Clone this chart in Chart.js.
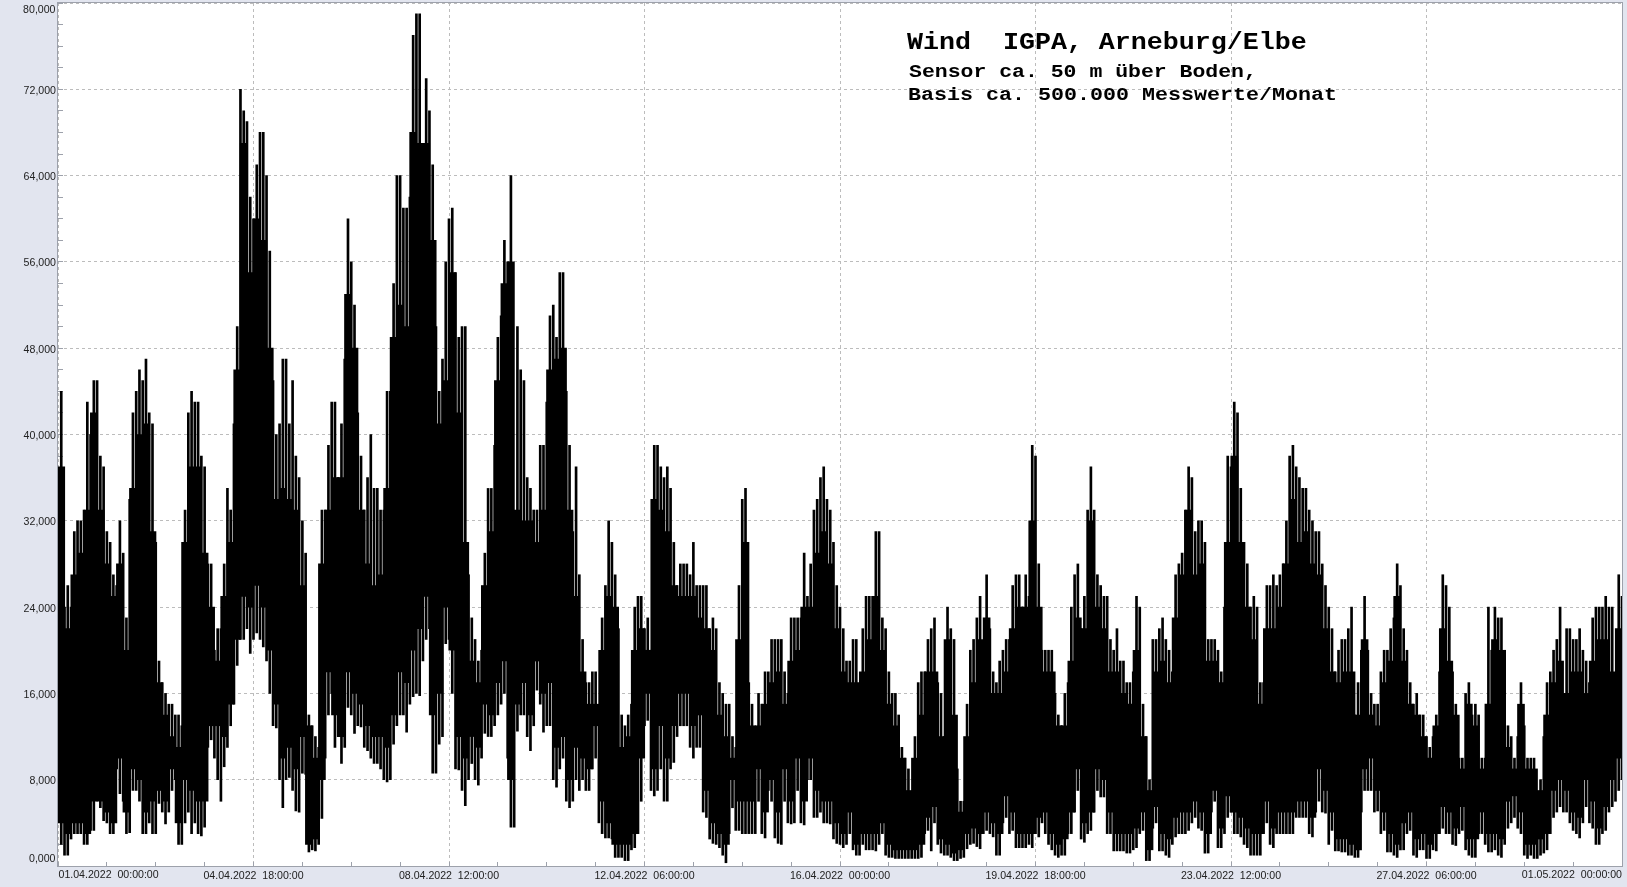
<!DOCTYPE html>
<html lang="de">
<head>
    <meta charset="UTF-8">
    <title>Wind IGPA, Arneburg/Elbe</title>
    <script src="https://cdn.jsdelivr.net/npm/chart.js"></script>
    <style>
        html, body {
            margin: 0;
            padding: 0;
            background: #e2e5ef;
            overflow: hidden;
        }
        canvas {
            display: block;
        }
    </style>
</head>
<body>
    <canvas id="windChart" width="1627" height="887"></canvas>

    <script>
        // tick labels
        const yLabels = ['0,000', '8,000', '16,000', '24,000', '32,000', '40,000', '48,000', '56,000', '64,000', '72,000', '80,000'];
        const xLabels = ['01.04.2022  00:00:00', '04.04.2022  18:00:00', '08.04.2022  12:00:00', '12.04.2022  06:00:00', '16.04.2022  00:00:00', '19.04.2022  18:00:00', '23.04.2022  12:00:00', '27.04.2022  06:00:00', '01.05.2022  00:00:00'];
        const titleLines = ['Wind  IGPA, Arneburg/Elbe', 'Sensor ca. 50 m über Boden,', 'Basis ca. 500.000 Messwerte/Monat'];

        // wind readings per 3 hour column: highest and lowest spike
        const spikeHigh = [
            44, 26, 31, 32, 43, 45, 38, 31, 27, 32,
            23, 42, 46, 47, 41, 19, 16, 15, 14, 33,
            44, 43, 37, 28, 22, 28, 33, 50, 70, 62,
            65, 68, 57, 40, 47, 41, 38, 32, 14, 12,
            33, 39, 43, 41, 60, 52, 38, 36, 35, 33,
            44, 54, 64, 61, 77, 79, 73, 65, 44, 56,
            61, 49, 50, 23, 19, 29, 35, 49, 58, 64,
            50, 45, 35, 33, 39, 51, 49, 55, 39, 37,
            21, 17, 18, 23, 32, 27, 14, 14, 24, 25,
            23, 39, 37, 37, 30, 28, 28, 30, 26, 26,
            23, 17, 15, 12, 26, 35, 15, 16, 18, 21,
            21, 18, 23, 23, 29, 28, 34, 37, 33, 26,
            22, 19, 21, 22, 25, 31, 23, 18, 16, 11,
            9, 12, 18, 21, 23, 16, 24, 21, 6, 15,
            21, 25, 27, 18, 19, 21, 26, 27, 27, 39,
            28, 20, 20, 14, 16, 24, 28, 25, 37, 27,
            25, 21, 22, 19, 17, 25, 15, 8, 21, 23,
            20, 27, 29, 37, 31, 32, 21, 21, 18, 38,
            43, 35, 28, 25, 17, 26, 27, 27, 32, 39,
            36, 35, 32, 31, 26, 22, 20, 21, 24, 17,
            25, 16, 15, 20, 22, 28, 22, 17, 16, 14,
            11, 14, 27, 24, 15, 10, 17, 15, 10, 24,
            24, 23, 13, 10, 17, 10, 10, 8, 17, 20,
            24, 22, 21, 22, 19, 23, 24, 25, 24, 27
        ];
        const spikeLow = [
            2, 1, 3, 3, 2, 3.3, 5.4, 4, 3, 6.7,
            3, 7, 6, 3, 3, 5.8, 3.9, 7, 2, 4,
            3, 3, 3.6, 11.7, 8, 9.2, 13, 18.6, 21, 19.7,
            21.6, 20.3, 16, 12.8, 5.4, 8.2, 5.1, 8.6, 1.3, 1.4,
            4.4, 14, 11, 9.5, 14.7, 12.3, 12.9, 10.7, 9.5, 9,
            7.8, 11.3, 14, 12.4, 15.7, 15.8, 21, 8.6, 11.3, 20.6,
            16, 8.9, 5.6, 9.5, 7.5, 12.3, 12, 14, 16, 3.6,
            12.5, 14, 10.7, 16.3, 12.4, 13, 7.3, 10, 5.4, 8,
            8, 7, 10, 3, 2.6, 0.8, 0.8, 0.5, 1.7, 6,
            13.5, 6.5, 9, 6, 9.6, 13, 13, 10, 11, 4.5,
            2.1, 1.7, 0.3, 5.4, 3.3, 3, 3, 6, 2.6, 6,
            2.1, 6, 3.9, 7, 3.8, 8, 4.5, 4, 3.9, 2.1,
            1.7, 3, 1, 2, 1.5, 1.4, 3, 0.8, 0.7, 0.7,
            0.7, 0.7, 0.8, 3.3, 4, 1.2, 1, 0.5, 0.7, 1.6,
            2.1, 1.6, 3.3, 2.7, 1, 4.5, 3.3, 1.7, 1.7, 1.7,
            2.7, 3, 1.5, 0.8, 1, 3, 7, 2.2, 3.3, 7,
            6.4, 3, 1.4, 1.4, 1.2, 1.7, 3.3, 0.5, 4, 1.4,
            0.8, 2.7, 3, 3.3, 4.5, 3.3, 1.2, 6, 1.7, 4.5,
            3, 2.7, 1.7, 1, 1, 4, 1.7, 3, 3, 3,
            4.5, 4.5, 2.7, 6, 4.9, 3.3, 1.4, 1.3, 1, 0.8,
            7, 7, 5.1, 3.3, 1.3, 0.8, 1.5, 3.3, 0.8, 1.5,
            0.7, 1.4, 3.5, 3, 1.9, 3.3, 1, 0.8, 3, 1.3,
            1.5, 0.8, 3.5, 4.5, 3, 0.7, 0.7, 1, 1.5, 4.5,
            5.5, 5, 3.3, 2.6, 5.5, 3.5, 2, 3.3, 5.5, 7
        ];

        // spikes that fall on the boundary between two columns
        const midHigh = [
            24, 24, 32, 33, 40, 45, 37, 30, 26, 29,
            34, 44, 45, 42, 30, 17, 15, 14, 13, 42,
            43, 38, 28, 20, 22, 35, 41, 72, 69, 60,
            68, 64, 45, 41, 47, 45, 36, 29, 13, 11,
            33, 43, 36, 47, 56, 42, 33, 40, 35, 33,
            44, 64, 61, 62, 79, 64, 70, 50, 47, 60,
            55, 50, 27, 21, 20, 35, 39, 51, 56, 30,
            46, 36, 33, 39, 43, 52, 55, 44, 31, 27,
            17, 18, 14, 26, 30, 22, 13, 15, 25, 22,
            20, 39, 36, 35, 26, 28, 27, 26, 26, 22,
            22, 16, 15, 11, 34, 17, 12, 15, 18, 21,
            21, 16, 23, 23, 25, 33, 36, 34, 30, 24,
            19, 21, 15, 25, 25, 31, 22, 16, 14, 10,
            6, 17, 18, 22, 17, 12, 22, 9, 6, 20,
            23, 20, 22, 17, 20, 21, 27, 24, 25, 38,
            20, 20, 16, 13, 17, 27, 22, 33, 33, 26,
            25, 20, 19, 17, 18, 24, 12, 21, 22, 21,
            18, 28, 33, 36, 32, 30, 21, 20, 24, 37,
            42, 30, 24, 24, 17, 26, 26, 28, 38, 37,
            35, 33, 31, 28, 24, 18, 21, 22, 14, 20,
            20, 15, 18, 20, 23, 26, 20, 15, 14, 12,
            12, 18, 26, 18, 10, 16, 14, 14, 10, 20,
            23, 20, 12, 12, 13, 10, 6, 12, 18, 21,
            16, 22, 21, 20, 17, 24, 24, 24, 16, 25
        ];
        const midLow = [
            1, 2.5, 3, 2, 3.3, 6.5, 4.2, 3, 9, 6,
            3.1, 7, 3, 4, 3, 5, 5, 8, 2, 5,
            4, 2.8, 11, 10, 6, 11, 15, 21, 22, 21,
            21, 19, 13, 8, 8, 7, 5, 8.5, 1.5, 2,
            10, 16, 12, 11, 14, 13, 11, 10, 9.5, 8,
            8, 13, 14, 15, 16, 19, 22, 8.6, 12, 21,
            9, 7, 8, 8, 10, 12, 13, 15, 10, 3.6,
            14, 12, 13, 15, 13, 8, 9, 6, 6, 7,
            7, 9, 4, 2.6, 2.5, 0.8, 0.5, 1.5, 3, 13,
            7, 7, 6, 9, 12, 13, 11, 11, 5, 2.5,
            2, 1, 3, 3.3, 3, 3, 3, 3, 7, 2.6,
            2, 4, 4, 4, 8, 4.5, 5, 4, 2.5, 2,
            2, 1.5, 1, 1.5, 1.5, 2, 1, 0.8, 0.7, 0.7,
            0.7, 0.7, 3, 1.4, 2, 1, 0.8, 0.5, 0.8, 2,
            1.8, 3, 3, 1, 4, 3, 1.7, 1.7, 2, 3,
            4, 2, 1, 1, 3, 5, 2.5, 3, 5, 6.4,
            3, 1.4, 1.4, 1.2, 1.5, 3, 0.5, 3.5, 1.4, 1,
            2, 3, 3, 4, 3.5, 1.2, 5, 1.7, 3, 5,
            3, 2, 1, 1, 3, 2, 3, 3, 3, 4.5,
            4.5, 3, 5, 5, 2, 1.4, 1.3, 1, 0.8, 5,
            7, 5, 3, 1.3, 1, 1.5, 3, 1, 1.5, 0.7,
            1.5, 3, 3, 2, 3, 1.5, 0.8, 3, 2, 1.3,
            1, 2, 4, 3.5, 1, 1, 0.7, 1.2, 3, 5,
            5, 4, 3, 4, 4, 2, 3, 5, 6, 8
        ];

        // the solid part of each column
        const bodyHigh = [
            37, 22, 27, 29, 33, 42, 33, 28, 25, 28,
            20, 35, 40, 41, 31, 17, 14, 12, 11, 30,
            37, 37, 29, 24, 19, 25, 30, 46, 67, 55,
            60, 58, 48, 34, 35, 34, 33, 26, 13, 10,
            28, 33, 36, 36, 53, 48, 33, 28, 26, 27,
            35, 49, 52, 50, 68, 67, 67, 58, 41, 45,
            55, 42, 30, 19, 17, 26, 31, 45, 54, 56,
            33, 32, 32, 30, 33, 46, 47, 48, 33, 25,
            18, 15, 15, 20, 25, 24, 11, 12, 20, 22,
            20, 34, 33, 31, 26, 25, 25, 25, 23, 22,
            20, 14, 12, 10, 21, 30, 13, 13, 15, 17,
            18, 15, 19, 20, 24, 24, 29, 31, 28, 22,
            18, 17, 17, 18, 21, 25, 20, 15, 13, 10,
            7, 10, 14, 18, 18, 12, 21, 14, 5, 12,
            17, 21, 23, 16, 16, 18, 22, 24, 24, 32,
            24, 18, 18, 13, 13, 19, 23, 22, 32, 24,
            22, 18, 18, 16, 15, 20, 12, 7, 18, 19,
            17, 23, 27, 33, 27, 28, 19, 19, 17, 30,
            38, 30, 24, 21, 15, 22, 22, 24, 28, 34,
            30, 31, 28, 27, 22, 18, 17, 18, 18, 14,
            21, 14, 13, 17, 19, 25, 19, 15, 14, 12,
            10, 13, 22, 19, 14, 9, 15, 13, 9, 15,
            21, 20, 11, 9, 15, 9, 9, 7, 14, 17,
            19, 16, 18, 18, 16, 19, 21, 21, 18, 22
        ];
        const bodyLow = [
            4, 3, 4, 4, 3, 6, 6, 5, 4, 10,
            5, 9, 8, 5, 6, 7, 6, 9, 4, 8,
            7, 6, 6, 13, 13, 12, 15, 21, 25, 24,
            26, 24, 20, 15, 10, 11, 9, 12, 2, 2.5,
            8, 18, 14, 12, 18, 16, 15, 13, 12, 12,
            11, 14, 18, 17, 20, 22, 25, 14, 16, 24,
            20, 12, 10, 12, 11, 15, 14, 17, 19, 8,
            15, 17, 14, 19, 16, 17, 11, 12, 8, 11,
            10, 9, 13, 6, 4, 2, 2, 2, 3, 10,
            16, 9, 13, 10, 13, 16, 16, 13, 14, 7,
            4, 3, 2, 8, 6, 6, 6, 9, 5, 8,
            5, 9, 6, 10, 6, 10, 7, 6, 6, 4,
            3, 5, 2, 3, 3, 3, 4, 2, 1.5, 1.5,
            1.5, 1.5, 2, 4.5, 5.5, 2.5, 2, 1.2, 1.5, 3,
            3.5, 3, 5, 4, 3, 6.5, 5, 3, 3, 3,
            4.5, 5, 3, 2, 2.5, 5, 9, 4, 5, 9,
            8, 5, 3, 3, 3, 3.5, 5, 1.5, 5.5, 3,
            2.5, 4.5, 5, 5, 6, 5, 3, 7, 3.5, 6.5,
            5, 4.5, 3.5, 3, 3, 6, 3.5, 5, 5, 5,
            6, 6, 4.5, 9, 7, 5, 2.5, 2.5, 2, 1.5,
            9, 10, 7, 5, 3, 2, 4, 5, 2.5, 3,
            2, 3, 5.5, 5, 3.5, 5.5, 2.5, 2.5, 5, 3,
            3, 2.5, 6, 6.5, 5, 2, 2, 2.5, 3, 7,
            8, 7, 5, 4.5, 8, 6, 3.5, 5.5, 8, 10
        ];

        const columnHours = spikeHigh.map((v, i) => 1.5 + i * 3);
        const boundaryHours = midHigh.map((v, i) => 3 + i * 3);

        // frame, white plot background, title and the labels that sit inside the plot edges
        const framePlugin = {
            id: 'frame',
            beforeDraw(chart) {
                const { ctx, chartArea: a } = chart;
                ctx.save();
                ctx.fillStyle = '#ffffff';
                ctx.fillRect(a.left, a.top, a.right - a.left, a.bottom - a.top);
                ctx.restore();
            },
            afterDraw(chart) {
                const { ctx, chartArea: a } = chart;
                ctx.save();
                ctx.strokeStyle = '#9da1ab';
                ctx.lineWidth = 1;
                ctx.strokeRect(a.left - 0.5, a.top - 0.5, a.right - a.left + 1, a.bottom - a.top + 1);

                ctx.fillStyle = '#222222';
                ctx.font = '10.6px "Liberation Sans"';
                ctx.textBaseline = 'middle';
                ctx.textAlign = 'right';
                ctx.fillText(yLabels[10], 55.5, 10);
                ctx.fillText(yLabels[0], 55.5, 859);
                ctx.textAlign = 'left';
                ctx.fillText(xLabels[0], 58.5, 875);
                ctx.textAlign = 'right';
                ctx.fillText(xLabels[8], 1622, 875);

                ctx.fillStyle = '#000000';
                ctx.textAlign = 'left';
                ctx.textBaseline = 'alphabetic';
                drawWideText(ctx, titleLines[0], 907, 49, 24, 1.11);
                drawWideText(ctx, titleLines[1], 909, 77, 19, 1.13);
                drawWideText(ctx, titleLines[2], 908, 100, 19, 1.14);
                ctx.restore();
            }
        };

        function drawWideText(ctx, text, x, y, size, stretch) {
            ctx.save();
            ctx.translate(x, y);
            ctx.scale(stretch, 1);
            ctx.font = 'bold ' + size + 'px "Liberation Mono"';
            ctx.fillText(text, 0, 0);
            ctx.restore();
        }

        new Chart(document.getElementById('windChart').getContext('2d'), {
            type: 'bar',
            data: {
                datasets: [
                    {
                        label: 'Wind',
                        data: columnHours.map((h, i) => ({ x: h, y: [bodyLow[i], bodyHigh[i]] })),
                        backgroundColor: '#000000',
                        barThickness: 7,
                        grouped: false
                    },
                    {
                        label: 'Wind Spitzen',
                        data: columnHours.map((h, i) => ({ x: h, y: [spikeLow[i], spikeHigh[i]] })),
                        backgroundColor: '#000000',
                        barThickness: 2,
                        grouped: false
                    },
                    {
                        label: 'Wind Spitzen 2',
                        data: boundaryHours.map((h, i) => ({ x: h, y: [midLow[i], midHigh[i]] })),
                        backgroundColor: '#000000',
                        barThickness: 2,
                        grouped: false
                    }
                ]
            },
            options: {
                responsive: false,
                animation: false,
                layout: { padding: { top: 3, right: 5, left: 0, bottom: 0 } },
                plugins: {
                    legend: { display: false },
                    tooltip: { enabled: false }
                },
                scales: {
                    x: {
                        type: 'linear',
                        min: 0,
                        max: 720,
                        offset: false,
                        afterFit(scale) {
                            scale.height = 21;
                            scale.paddingLeft = 0;
                            scale.paddingRight = 0;
                        },
                        border: { display: false, dash: [3, 3] },
                        grid: {
                            offset: false,
                            color: c => (c.tick && c.tick.value % 90 === 0 ? '#bcbcbc' : 'transparent'),
                            tickColor: '#9da1ab',
                            tickLength: -4
                        },
                        ticks: {
                            stepSize: 22.5,
                            autoSkip: false,
                            maxRotation: 0,
                            padding: 8,
                            color: '#222222',
                            font: { family: '"Liberation Sans"', size: 10.6 },
                            callback: v => (v % 90 === 0 && v !== 0 && v !== 720 ? xLabels[v / 90] : '')
                        }
                    },
                    y: {
                        min: 0,
                        max: 80,
                        afterFit(scale) {
                            scale.width = 58;
                            scale.paddingTop = 0;
                            scale.paddingBottom = 0;
                        },
                        border: { display: false, dash: [3, 3] },
                        grid: {
                            color: c => (c.tick && c.tick.value % 8 === 0 ? '#bcbcbc' : 'transparent'),
                            tickColor: '#9da1ab',
                            tickLength: -5
                        },
                        ticks: {
                            stepSize: 2,
                            autoSkip: false,
                            padding: 7,
                            labelOffset: 1.5,
                            color: '#222222',
                            font: { family: '"Liberation Sans"', size: 10.6 },
                            callback: v => (v % 8 === 0 && v !== 0 && v !== 80 ? yLabels[v / 8] : '')
                        }
                    }
                }
            },
            plugins: [framePlugin]
        });
    </script>
</body>
</html>
